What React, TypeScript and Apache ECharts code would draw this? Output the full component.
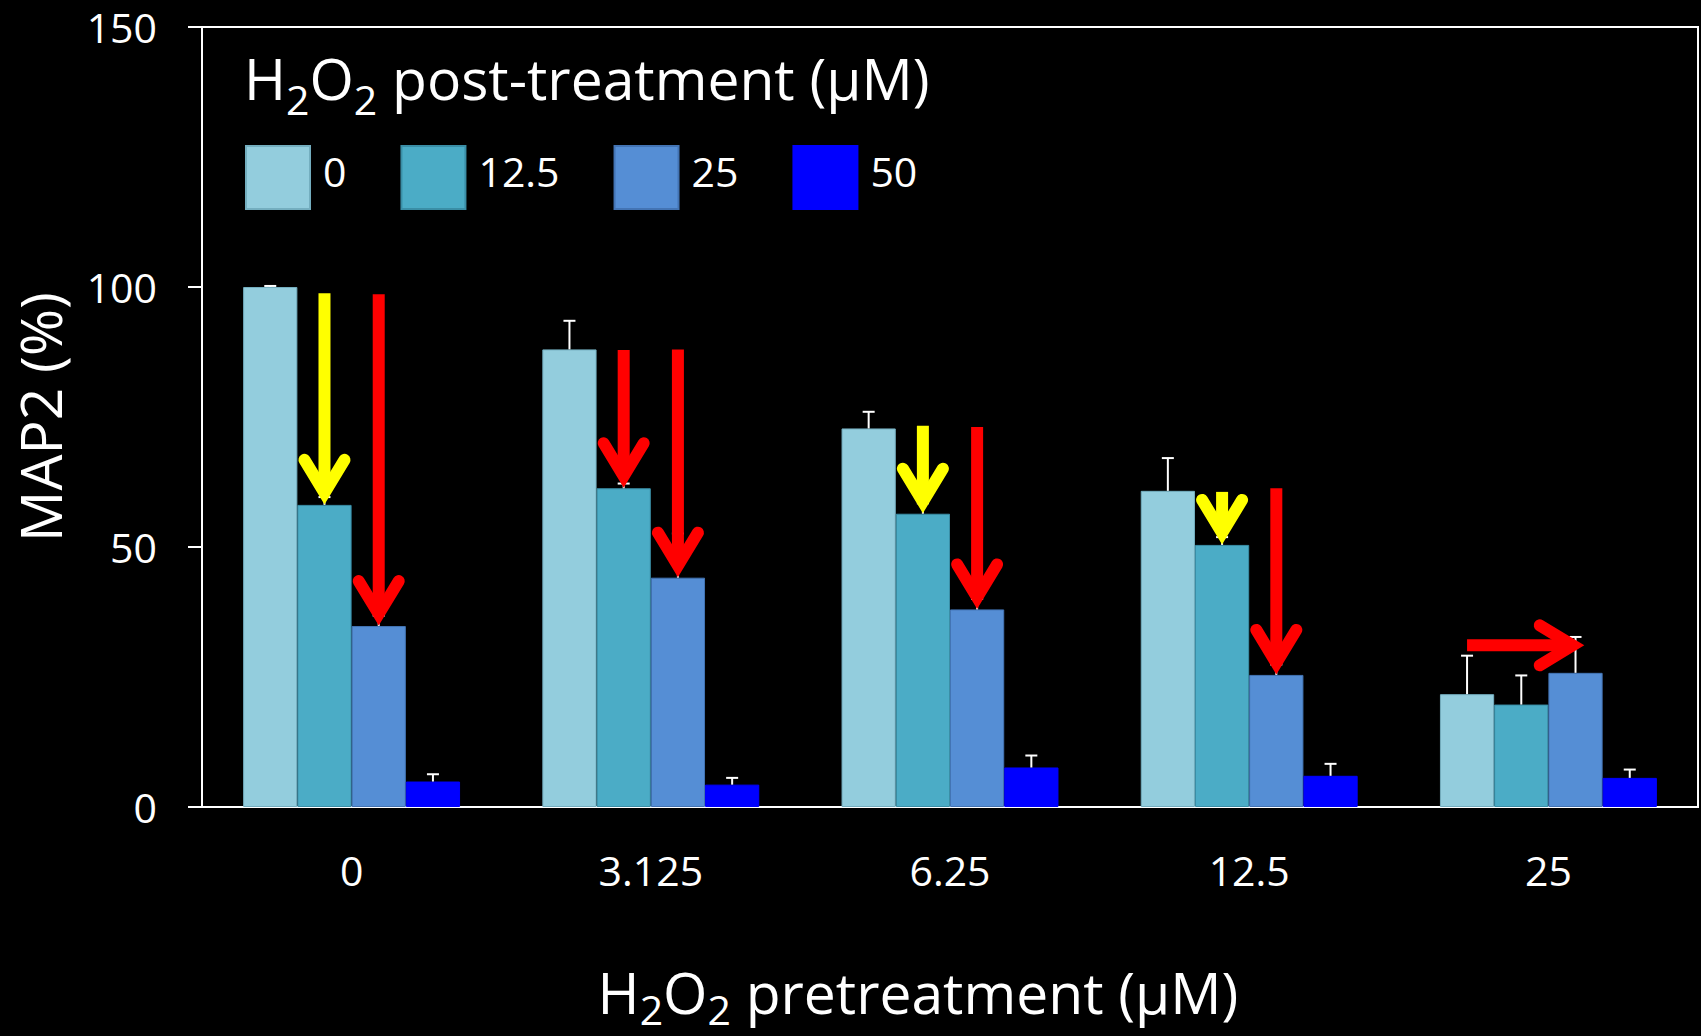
import React, { useEffect, useRef } from "react";
import * as echarts from "echarts";

const FONT = '"Open Sans", "DejaVu Sans", sans-serif';

// Pretreatment concentrations (category axis) and post-treatment groups (series)
const pretreatment = ["0", "3.125", "6.25", "12.5", "25"];
const postTreatment = ["0", "12.5", "25", "50"];

// MAP2 (%) per pretreatment level, one array per post-treatment dose
const map2Post0 = [100, 88.0, 72.8, 60.8, 21.7];
const map2Post12 = [58.1, 61.3, 56.4, 50.4, 19.7];
const map2Post25 = [34.8, 44.1, 38.0, 25.4, 25.8];
const map2Post50 = [4.9, 4.3, 7.6, 6.0, 5.6];

// Upper error (SD) for each bar
const sdPost0 = [0.2, 5.5, 3.2, 6.3, 7.4];
const sdPost12 = [1.5, 0.9, 2.0, 1.5, 5.6];
const sdPost25 = [2.0, 8.5, 2.0, 2.0, 6.9];
const sdPost50 = [1.4, 1.3, 2.3, 2.3, 1.6];

const yTicks = [0, 50, 100, 150];

// Drop arrows: [pretreatment index, post-treatment index, start value]; each ends on its bar top
const yellowDrops = [
  [0, 1, 98.8],
  [2, 1, 73.3],
  [3, 1, 60.6],
];
const redDrops = [
  [0, 2, 98.6],
  [1, 1, 87.9],
  [1, 2, 88.0],
  [2, 2, 73.1],
  [3, 2, 61.3],
];
// Sideways arrow: [pretreatment index, from bar, to bar, level]
const redSideways = [[4, 0, 2.17, 31.1]];

const seriesValues = [map2Post0, map2Post12, map2Post25, map2Post50];
const seriesErrors = [sdPost0, sdPost12, sdPost25, sdPost50];
const barColors = ["#93CDDD", "#4BACC6", "#558ED5", "#0000FF"];
const barBorders = ["#74AEBF", "#3A8EA6", "#4374B4", "#0000FF"];
const arrowColors = ["#FFFF00", "#FF0000"];

const CATEGORY_GAP = 0.275;
const BAR_SHARE = (1 - CATEGORY_GAP) / postTreatment.length;

// Rich styles for "H2O2" with subscripted 2s (small token height pushes them to the line bottom)
const makeSubRich = (subHeight: number) => ({
  m: { fontFamily: FONT, fontSize: 57, fontWeight: "normal", color: "#fff", lineHeight: 56 },
  s: {
    fontFamily: FONT,
    fontSize: 41,
    fontWeight: "normal",
    color: "#fff",
    height: subHeight,
    lineHeight: subHeight,
    verticalAlign: "bottom",
  },
});

export default function App() {
  const ref = useRef<HTMLDivElement>(null);

  useEffect(() => {
    document.body.style.margin = "0";
    document.body.style.background = "#000";
    if (!ref.current) return;
    const chart = echarts.init(ref.current, undefined, { renderer: "svg" });

    const barSeries = postTreatment.map((name, k) => ({
      name,
      type: "bar",
      data: seriesValues[k],
      barGap: "0%",
      barCategoryGap: `${CATEGORY_GAP * 100}%`,
      itemStyle: { color: barColors[k], borderColor: barBorders[k], borderWidth: 1 },
      z: 2,
    }));

    const errorData: number[][] = [];
    seriesValues.forEach((vals, k) =>
      vals.forEach((v, i) => errorData.push([i, v, seriesErrors[k][i], k]))
    );

    const arrowData: number[][] = [];
    yellowDrops.forEach(([c, k, from]) => arrowData.push([c, k, k, from, seriesValues[k][c], 0]));
    redDrops.forEach(([c, k, from]) => arrowData.push([c, k, k, from, seriesValues[k][c], 1]));
    redSideways.forEach(([c, k0, k1, lvl]) => arrowData.push([c, k0, k1, lvl, lvl, 1]));

    const option = {
      animation: false,
      backgroundColor: "#000",
      textStyle: { fontFamily: FONT },
      title: {
        text: "{m|H}{s|2}{m|O}{s|2}{m| post-treatment (μM)}",
        left: 244,
        top: 50,
        padding: 0,
        textStyle: { fontWeight: "normal", rich: makeSubRich(14) },
      },
      legend: {
        data: postTreatment,
        left: 245,
        top: 145,
        padding: 0,
        itemWidth: 64,
        itemHeight: 63,
        itemGap: 54,
        icon: "rect",
        selectedMode: false,
        formatter: "{t|{name}}",
        textStyle: {
          color: "#fff",
          fontSize: 41,
          fontFamily: FONT,
          rich: { t: { color: "#fff", fontSize: 41, fontFamily: FONT, padding: [0, 0, 14, 8] } },
        },
      },
      grid: {
        left: 202,
        right: 3,
        top: 27,
        bottom: 229,
        outerBoundsMode: "none",
        show: true,
        borderColor: "#fff",
        borderWidth: 2,
      },
      xAxis: {
        type: "category",
        data: pretreatment,
        axisLine: { lineStyle: { color: "#fff", width: 2 } },
        axisTick: { show: false },
        axisLabel: { color: "#fff", fontSize: 41, fontFamily: FONT, margin: 42 },
        name: "{m|H}{s|2}{m|O}{s|2}{m| pretreatment (μM)}",
        nameLocation: "middle",
        nameGap: 157,
        nameTextStyle: { rich: makeSubRich(22), padding: [0, 64, 0, 0] },
      },
      yAxis: {
        type: "value",
        min: yTicks[0],
        max: yTicks[yTicks.length - 1],
        interval: yTicks[1] - yTicks[0],
        axisLine: { show: true, lineStyle: { color: "#fff", width: 2 } },
        axisTick: { show: true, length: 14, lineStyle: { color: "#fff", width: 2 } },
        splitLine: { show: false },
        axisLabel: { color: "#fff", fontSize: 41, fontFamily: FONT, margin: 45 },
        name: "MAP2 (%)",
        nameLocation: "middle",
        nameRotate: 90,
        nameGap: 134,
        nameTextStyle: { color: "#fff", fontSize: 57, fontFamily: FONT },
      },
      series: [
        ...barSeries,
        {
          type: "custom",
          name: "sd",
          data: errorData,
          z: 3,
          silent: true,
          renderItem: (_p: any, api: any) => {
            const i = api.value(0);
            const v = api.value(1);
            const e = api.value(2);
            const k = api.value(3);
            const bw = api.size([1, 0])[0] * BAR_SHARE;
            const b = api.coord([i, v]);
            const t = api.coord([i, v + e]);
            const x = b[0] + (k - 1.5) * bw;
            const style = { stroke: "#fff", lineWidth: 2 };
            return {
              type: "group",
              children: [
                { type: "line", shape: { x1: x, y1: b[1], x2: x, y2: t[1] }, style },
                { type: "line", shape: { x1: x - 6, y1: t[1], x2: x + 6, y2: t[1] }, style },
              ],
            };
          },
        },
        {
          type: "custom",
          name: "arrows",
          data: arrowData,
          z: 4,
          silent: true,
          renderItem: (_p: any, api: any) => {
            const c = api.value(0);
            const k0 = api.value(1);
            const k1 = api.value(2);
            const vFrom = api.value(3);
            const vTo = api.value(4);
            const color = arrowColors[api.value(5)];
            const bw = api.size([1, 0])[0] * BAR_SHARE;
            const p0 = api.coord([c, vFrom]);
            const p1 = api.coord([c, vTo]);
            const s = [p0[0] + (k0 - 1.5) * bw, p0[1]];
            const t = [p1[0] + (k1 - 1.5) * bw, p1[1]];
            const len = Math.hypot(t[0] - s[0], t[1] - s[1]) || 1;
            const d = [(t[0] - s[0]) / len, (t[1] - s[1]) / len];
            const n = [-d[1], d[0]];
            const tipBack = 12;
            const armBack = 33;
            const armSpread = 20;
            const v = [t[0] - d[0] * tipBack, t[1] - d[1] * tipBack];
            const armA = [v[0] - d[0] * armBack + n[0] * armSpread, v[1] - d[1] * armBack + n[1] * armSpread];
            const armB = [v[0] - d[0] * armBack - n[0] * armSpread, v[1] - d[1] * armBack - n[1] * armSpread];
            return {
              type: "group",
              children: [
                {
                  type: "line",
                  shape: { x1: s[0], y1: s[1], x2: v[0], y2: v[1] },
                  style: { stroke: color, lineWidth: 12, lineCap: "butt" },
                },
                {
                  type: "polyline",
                  shape: { points: [armA, v, armB] },
                  style: { stroke: color, fill: null, lineWidth: 12, lineCap: "round", lineJoin: "miter", miterLimit: 10 },
                },
              ],
            };
          },
        },
      ],
    };

    chart.setOption(option as any);
    return () => chart.dispose();
  }, []);

  return <div ref={ref} style={{ width: 1701, height: 1036 }} />;
}
